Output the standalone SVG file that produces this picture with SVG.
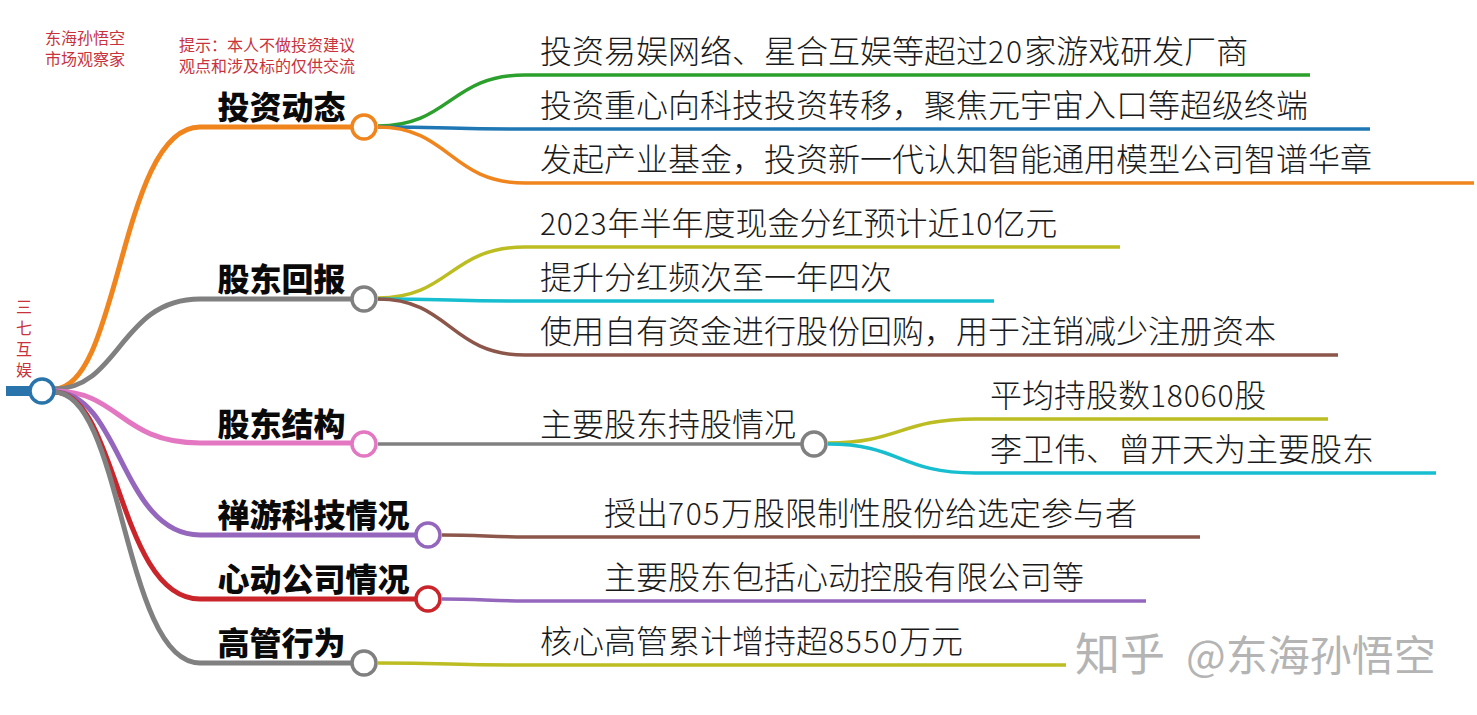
<svg xmlns="http://www.w3.org/2000/svg" width="1477" height="715" viewBox="0 0 1477 715">
<style>
text{font-family:"Noto Sans CJK SC","Liberation Sans",sans-serif}
.h{font-size:32px;font-weight:900;fill:#0a0a0a}
.l{font-size:32px;font-weight:300;fill:#1a1a1a}
.d{font-size:30px}
.n{font-family:"Liberation Sans","Noto Sans CJK SC",sans-serif;font-size:16px;fill:#c8323c}
.w{font-size:42px;fill:#b4b4b4}
.c{fill:none;stroke-linecap:butt}
.m{stroke-width:5}
.s{stroke-width:3.5}
circle{fill:#fff;stroke-width:3.5}
</style>
<rect width="1477" height="715" fill="#fff"/>
<g id="connectors">
<path class="c" stroke="#2a74ac" stroke-width="10" d="M6,391H32"/>
<path class="c m" stroke="#f0851e" d="M54,389C120,389 120,127 200,127H352"/>
<path class="c m" stroke="#808080" d="M54,389C120,389 120,299 200,299H352"/>
<path class="c m" stroke="#e377c2" d="M54,391C120,391 120,443 200,443H352"/>
<path class="c m" stroke="#9467bd" d="M54,392C121,392 121,535 200,535H416"/>
<path class="c m" stroke="#c9252b" d="M54,392C118,392 118,599 200,599H416"/>
<path class="c m" stroke="#808080" d="M54,392C123,392 123,663 200,663H352"/>
<path class="c s" stroke="#2ca02c" d="M378,126C450,126 450,75 525,75H1310"/>
<path class="c s" stroke="#1f77b4" d="M378,127C450,127 450,129 525,129H1370"/>
<path class="c s" stroke="#f0851e" d="M378,127C450,127 450,183 525,183H1474"/>
<path class="c s" stroke="#bcbd22" d="M378,298C450,298 450,247 525,247H1120"/>
<path class="c s" stroke="#17becf" d="M378,299C450,299 450,301 525,301H994"/>
<path class="c s" stroke="#8c564b" d="M378,299C450,299 450,355 525,355H1338"/>
<path class="c s" stroke="#808080" d="M378,444H801"/>
<path class="c s" stroke="#bcbd22" d="M828,443C900,443 900,419 975,419H1328"/>
<path class="c s" stroke="#17becf" d="M828,444C900,444 900,473 975,473H1436"/>
<path class="c s" stroke="#8c564b" d="M442,535C480,535 490,537 525,537H1200"/>
<path class="c s" stroke="#9467bd" d="M442,599C480,599 490,601 525,601H1146"/>
<path class="c s" stroke="#bcbd22" d="M378,663C450,663 450,665 525,665H1066"/>
</g>
<g id="root"><circle cx="42" cy="391" r="12" stroke="#2a74ac"/>
<text class="n"><tspan x="16" y="313">三</tspan><tspan x="16" y="334">七</tspan><tspan x="16" y="355">互</tspan><tspan x="16" y="376">娱</tspan></text></g>
<g id="note1"><text class="n"><tspan x="45" y="44">东海孙悟空</tspan><tspan x="45" y="65">市场观察家</tspan></text></g>
<g id="note2"><text class="n"><tspan x="179" y="51">提示&#xFF1A;本人不做投资建议</tspan><tspan x="179" y="72">观点和涉及标的仅供交流</tspan></text></g>
<g id="b1"><text class="h" x="217.5" y="119">投资动态</text><circle cx="364" cy="127" r="12" stroke="#f0851e"/></g>
<g id="b2"><text class="h" x="217.5" y="291">股东回报</text><circle cx="364" cy="299" r="12" stroke="#808080"/></g>
<g id="b3"><text class="h" x="217.5" y="436">股东结构</text><circle cx="364" cy="444" r="12" stroke="#e377c2"/></g>
<g id="b4"><text class="h" x="217.5" y="527">禅游科技情况</text><circle cx="428" cy="535" r="12" stroke="#9467bd"/></g>
<g id="b5"><text class="h" x="217.5" y="591">心动公司情况</text><circle cx="428" cy="599" r="12" stroke="#c9252b"/></g>
<g id="b6"><text class="h" x="217.5" y="655">高管行为</text><circle cx="364" cy="663" r="12" stroke="#808080"/></g>
<g id="l1"><text class="l" x="540" y="63">投资易娱网络、星合互娱等超过<tspan class="d" letter-spacing="2">20</tspan>家游戏研发厂商</text></g>
<g id="l2"><text class="l" x="540" y="117">投资重心向科技投资转移&#xFF0C;聚焦元宇宙入口等超级终端</text></g>
<g id="l3"><text class="l" x="540" y="171">发起产业基金&#xFF0C;投资新一代认知智能通用模型公司智谱华章</text></g>
<g id="l4"><text class="l" x="540" y="235"><tspan class="d" letter-spacing=".8">2023</tspan>年半年度现金分红预计近<tspan class="d" letter-spacing=".8">10</tspan>亿元</text></g>
<g id="l5"><text class="l" x="540" y="289">提升分红频次至一年四次</text></g>
<g id="l6"><text class="l" x="540" y="343">使用自有资金进行股份回购&#xFF0C;用于注销减少注册资本</text></g>
<g id="l7"><text class="l" x="540" y="436">主要股东持股情况</text><circle cx="814" cy="444" r="12" stroke="#808080"/></g>
<g id="l8"><text class="l" x="990" y="407">平均持股数<tspan class="d" letter-spacing=".8">18060</tspan>股</text></g>
<g id="l9"><text class="l" x="990" y="461">李卫伟、曾开天为主要股东</text></g>
<g id="l10"><text class="l" x="604" y="525">授出<tspan class="d" letter-spacing="1.6">705</tspan>万股限制性股份给选定参与者</text></g>
<g id="l11"><text class="l" x="604" y="589">主要股东包括心动控股有限公司等</text></g>
<g id="l12"><text class="l" x="540" y="653">核心高管累计增持超<tspan class="d" letter-spacing="1.7">8550</tspan>万元</text></g>
<text class="w"><tspan x="1075" y="671" font-size="45">知乎</tspan><tspan x="1186" y="671">@东海孙悟空</tspan></text>
</svg>
